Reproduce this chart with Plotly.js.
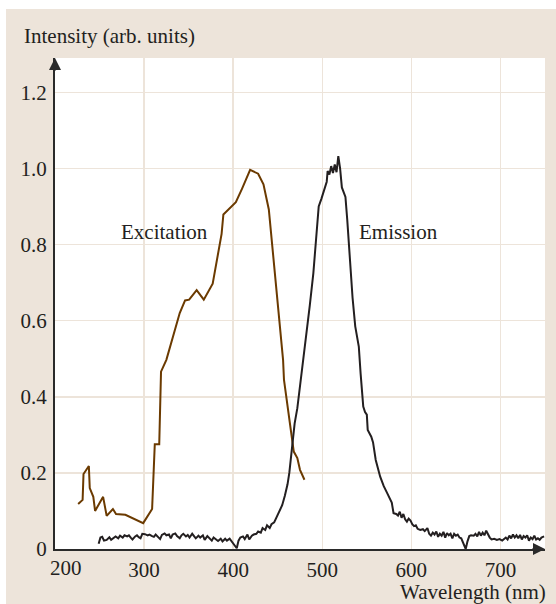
<!DOCTYPE html>
<html>
<head>
<meta charset="utf-8">
<script src="https://cdn.plot.ly/plotly-3.0.1.min.js"></script>
<style>html,body{margin:0;padding:0;background:#fff;}#chart{width:556px;height:604px;}</style>
</head>
<body>
<div id="chart"></div>
<script>
// Excitation spectrum (wavelength nm, intensity)
var excWl = [226, 231, 231.5, 232, 238, 239, 243, 245, 254, 258, 265, 268.5, 279, 299, 309, 312, 317, 319, 325, 335, 340, 346, 350.6, 359, 367, 377, 382, 387, 389, 403, 410, 414, 419, 428, 434, 440, 447, 456, 457, 463, 468, 472, 475, 480];
var excInt = [0.118, 0.129, 0.163, 0.197, 0.218, 0.16, 0.137, 0.10, 0.137, 0.087, 0.105, 0.092, 0.09, 0.068, 0.105, 0.275, 0.275, 0.466, 0.497, 0.58, 0.62, 0.653, 0.655, 0.68, 0.655, 0.697, 0.765, 0.828, 0.879, 0.911, 0.947, 0.967, 0.996, 0.986, 0.958, 0.892, 0.725, 0.497, 0.445, 0.34, 0.256, 0.239, 0.208, 0.182];

// Emission spectrum (wavelength nm, intensity)
var emWl = [249, 251, 253, 255, 258, 261, 263, 266, 268, 271, 273, 276, 278, 281, 283, 285, 287, 290, 292, 294, 296, 298, 301, 304, 306, 309, 311, 313, 316, 318, 320, 323, 325, 328, 330, 332, 335, 337, 340, 342, 344, 347, 349, 351, 354, 356, 358, 361, 363, 366, 368, 371, 373, 376, 378, 381, 383, 386, 388, 391, 393, 396, 398, 401, 404, 406, 408, 411, 413, 416, 418, 421, 423, 426, 428, 431, 433, 436, 438, 441, 443, 446, 449, 452, 455, 458, 461, 463, 466, 469, 472, 476, 482, 486, 490, 493, 496, 499, 502, 505, 506, 508, 510, 512, 514, 516, 518, 520, 522, 524, 526, 528, 530, 532, 534, 537, 540, 541, 543, 546, 548, 550, 551, 555, 557, 560, 565, 569, 573, 578, 580, 583, 585, 587, 589, 591, 593, 595, 597, 599, 601, 603, 605, 607, 610, 613, 615, 618, 620, 622, 624, 626, 628, 630, 632, 634, 636, 638, 640, 642, 644, 646, 648, 650, 652, 654, 656, 658, 661, 663, 665, 667, 670, 672, 674, 676, 678, 680, 682, 684, 686, 688, 690, 693, 696, 699, 702, 704, 706, 708, 710, 712, 714, 716, 718, 720, 722, 724, 726, 728, 730, 732, 734, 736, 738, 740, 742, 744, 746, 749];
var emInt = [0.014, 0.03, 0.032, 0.022, 0.024, 0.031, 0.024, 0.03, 0.033, 0.028, 0.035, 0.03, 0.036, 0.033, 0.036, 0.03, 0.025, 0.033, 0.036, 0.031, 0.028, 0.04, 0.039, 0.036, 0.038, 0.034, 0.032, 0.038, 0.03, 0.026, 0.037, 0.041, 0.036, 0.038, 0.028, 0.038, 0.041, 0.034, 0.028, 0.036, 0.04, 0.033, 0.037, 0.03, 0.04, 0.033, 0.028, 0.035, 0.03, 0.036, 0.024, 0.034, 0.029, 0.022, 0.03, 0.025, 0.021, 0.027, 0.02, 0.027, 0.022, 0.027, 0.021, 0.012, 0.002, 0.022, 0.03, 0.033, 0.026, 0.038, 0.025, 0.035, 0.038, 0.04, 0.046, 0.043, 0.055, 0.05, 0.062, 0.055, 0.065, 0.07, 0.085, 0.1, 0.115, 0.14, 0.17, 0.2, 0.27, 0.33, 0.37, 0.445, 0.55, 0.64, 0.725, 0.81, 0.9, 0.92, 0.94, 0.965, 0.993, 0.984, 1.006, 0.988, 1.01, 0.99, 1.032, 1.0, 0.95, 0.935, 0.925, 0.866, 0.79, 0.71, 0.66, 0.585, 0.55, 0.532, 0.462, 0.374, 0.36, 0.353, 0.313, 0.295, 0.28, 0.234, 0.19, 0.165, 0.146, 0.122, 0.094, 0.092, 0.088, 0.098, 0.082, 0.092, 0.078, 0.072, 0.08, 0.075, 0.065, 0.06, 0.062, 0.053, 0.05, 0.052, 0.047, 0.055, 0.04, 0.035, 0.043, 0.038, 0.046, 0.032, 0.04, 0.035, 0.045, 0.03, 0.042, 0.036, 0.04, 0.028, 0.04, 0.035, 0.038, 0.03, 0.028, 0.015, 0.0, 0.02, 0.034, 0.036, 0.035, 0.04, 0.033, 0.045, 0.035, 0.043, 0.036, 0.048, 0.038, 0.03, 0.025, 0.027, 0.024, 0.026, 0.022, 0.027, 0.03, 0.025, 0.035, 0.028, 0.038, 0.03, 0.036, 0.028, 0.037, 0.025, 0.034, 0.03, 0.036, 0.022, 0.03, 0.026, 0.035, 0.025, 0.028, 0.024, 0.03, 0.033];

var xTickVals = [200, 300, 400, 500, 600, 700];
var xTickText = ['200', '300', '400', '500', '600', '700'];
var yTickVals = [0, 0.2, 0.4, 0.6, 0.8, 1.0, 1.2];
var yTickText = ['0', '0.2', '0.4', '0.6', '0.8', '1.0', '1.2'];

var serif = '"Liberation Serif", "Times New Roman", Times, serif';
var beige = '#ede4da';
var axisCol = '#2a2a2a';
var txtCol = '#231f20';
var fs = 21;

var traces = [
  {x: excWl, y: excInt, type: 'scatter', mode: 'lines', name: 'Excitation',
   line: {color: '#6b3a00', width: 2}, hoverinfo: 'skip'},
  {x: emWl, y: emInt, type: 'scatter', mode: 'lines', name: 'Emission',
   line: {color: '#231f20', width: 2}, hoverinfo: 'skip'}
];

var layout = {
  width: 556, height: 604,
  margin: {l: 55, r: 11, t: 58, b: 55},
  paper_bgcolor: beige,
  plot_bgcolor: '#ffffff',
  showlegend: false,
  font: {family: serif, size: fs, color: txtCol},
  xaxis: {
    range: [200, 750], tickvals: xTickVals.slice(1), ticktext: xTickText.slice(1),
    showgrid: true, gridcolor: beige, gridwidth: 1.5,
    zeroline: false, showline: true, linecolor: axisCol, linewidth: 2,
    ticks: '', ticklabelstandoff: 1, tickfont: {family: serif, size: fs, color: txtCol}, fixedrange: true
  },
  yaxis: {
    range: [0, 1.29], tickvals: yTickVals, ticktext: yTickText,
    showgrid: true, gridcolor: beige, gridwidth: 1.5,
    zeroline: false, showline: true, linecolor: axisCol, linewidth: 2,
    ticks: '', ticklabelstandoff: 2, tickfont: {family: serif, size: fs, color: txtCol}, fixedrange: true
  },
  shapes: [
    {type: 'rect', xref: 'paper', yref: 'paper', x0: -0.2, x1: 1.1, y0: 1.0998, y1: 1.2,
     fillcolor: '#ffffff', line: {width: 0}},
    {type: 'rect', xref: 'paper', yref: 'paper', x0: -0.2, x1: -0.1, y0: -0.2, y1: 1.2,
     fillcolor: '#ffffff', line: {width: 0}}
  ],
  annotations: [
    {x: 750, y: 0, xref: 'x', yref: 'y', ax: -14, ay: 0, axref: 'pixel', ayref: 'pixel',
     showarrow: true, arrowhead: 2, arrowsize: 1.2, arrowwidth: 2, arrowcolor: axisCol, text: ''},
    {x: 200, y: 1.29, xref: 'x', yref: 'y', ax: 0, ay: 14, axref: 'pixel', ayref: 'pixel',
     showarrow: true, arrowhead: 2, arrowsize: 1.2, arrowwidth: 2, arrowcolor: axisCol, text: ''},
    {x: xTickVals[0], y: 0, xref: 'x', yref: 'y', xshift: 11, yshift: -19, yanchor: 'middle',
     text: xTickText[0], showarrow: false, font: {family: serif, size: fs, color: txtCol}},
    {x: 323, y: 0.833, xref: 'x', yref: 'y', text: 'Excitation', showarrow: false,
     font: {family: serif, size: fs, color: txtCol}},
    {x: 586, y: 0.833, xref: 'x', yref: 'y', text: 'Emission', showarrow: false,
     font: {family: serif, size: fs, color: txtCol}},
    {x: -0.067, y: 1.0, xref: 'paper', yref: 'paper', yshift: 22, xanchor: 'left', yanchor: 'middle',
     text: 'Intensity (arb. units)', showarrow: false,
     font: {family: serif, size: fs, color: txtCol}},
    {x: 1.006, y: 0, xref: 'paper', yref: 'paper', yshift: -43, xanchor: 'right', yanchor: 'middle',
     text: 'Wavelength (nm)', showarrow: false,
     font: {family: serif, size: fs, color: txtCol}}
  ]
};

Plotly.newPlot('chart', traces, layout, {displayModeBar: false, staticPlot: true});
</script>
</body>
</html>
